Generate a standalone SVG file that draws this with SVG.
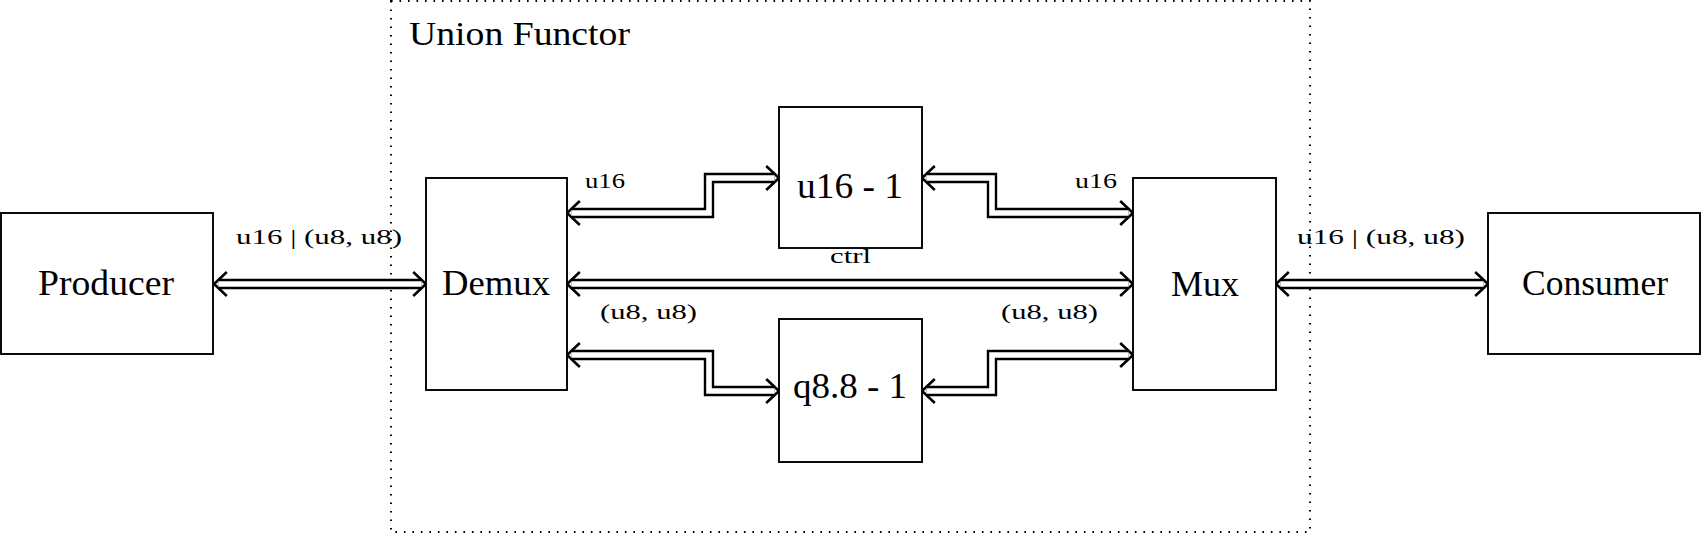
<svg xmlns="http://www.w3.org/2000/svg" width="1702" height="533" viewBox="0 0 1702 533">
<style>
.box{fill:#fff;stroke:#000;stroke-width:1.9}
.big{font-family:"Liberation Serif","DejaVu Serif",serif;font-size:35px;fill:#000;text-anchor:middle}
.sm{font-family:"Liberation Serif","DejaVu Serif",serif;font-size:21px;fill:#000}
.outer{fill:none;stroke:#000;stroke-width:10.4;stroke-linejoin:miter;stroke-linecap:butt}
.inner{fill:none;stroke:#fff;stroke-width:5.6;stroke-linejoin:miter;stroke-linecap:butt}
.frame{fill:none;stroke:#000;stroke-width:2;stroke-dasharray:1.6 6.9}
</style>
<defs>
<marker id="imp" markerUnits="userSpaceOnUse" markerWidth="30" markerHeight="30" refX="0" refY="0" viewBox="-15 -15 30 30" orient="auto-start-reverse" overflow="visible">
<path d="M -8.4 -12 L 4.4 0 L -8.4 12" fill="none" stroke="#000" stroke-width="2.6" stroke-linejoin="miter"/>
</marker>
</defs>
<g id="union-functor">
<rect class="frame" x="391" y="1" width="919" height="531"/>
<text class="sm" x="409" y="45" style="font-size:34px" textLength="221" lengthAdjust="spacingAndGlyphs">Union Functor</text>
</g>
<g id="connectors">
<path class="outer" d="M 218.4 284 H 421.6" marker-start="url(#imp)" marker-end="url(#imp)"/>
<path class="inner" d="M 218.4 284 H 421.6"/>
<path class="outer" d="M 571.4 284 H 1128.6" marker-start="url(#imp)" marker-end="url(#imp)"/>
<path class="inner" d="M 571.4 284 H 1128.6"/>
<path class="outer" d="M 1280.4 284 H 1483.6" marker-start="url(#imp)" marker-end="url(#imp)"/>
<path class="inner" d="M 1280.4 284 H 1483.6"/>
<path class="outer" d="M 571.4 213 H 709 V 178 H 774.6" marker-start="url(#imp)" marker-end="url(#imp)"/>
<path class="inner" d="M 571.4 213 H 709 V 178 H 774.6"/>
<path class="outer" d="M 926.4 178 H 992 V 213 H 1128.6" marker-start="url(#imp)" marker-end="url(#imp)"/>
<path class="inner" d="M 926.4 178 H 992 V 213 H 1128.6"/>
<path class="outer" d="M 571.4 355 H 709 V 391 H 774.6" marker-start="url(#imp)" marker-end="url(#imp)"/>
<path class="inner" d="M 571.4 355 H 709 V 391 H 774.6"/>
<path class="outer" d="M 926.4 391 H 992 V 355 H 1128.6" marker-start="url(#imp)" marker-end="url(#imp)"/>
<path class="inner" d="M 926.4 391 H 992 V 355 H 1128.6"/>
<text class="sm" x="236" y="244" textLength="166" lengthAdjust="spacingAndGlyphs">u16 | (u8, u8)</text>
<text class="sm" x="1297" y="244" textLength="168" lengthAdjust="spacingAndGlyphs">u16 | (u8, u8)</text>
<text class="sm" x="585" y="188" textLength="40" lengthAdjust="spacingAndGlyphs">u16</text>
<text class="sm" x="1075" y="188" textLength="42" lengthAdjust="spacingAndGlyphs">u16</text>
<text class="sm" x="600" y="319" textLength="97" lengthAdjust="spacingAndGlyphs">(u8, u8)</text>
<text class="sm" x="1001" y="319" textLength="97" lengthAdjust="spacingAndGlyphs">(u8, u8)</text>
<text class="sm" x="830" y="263" textLength="41" lengthAdjust="spacingAndGlyphs">ctrl</text>
</g>
<g id="producer">
<rect class="box" x="1" y="213" width="212" height="141"/>
<text class="big" x="106" y="295" textLength="136" lengthAdjust="spacingAndGlyphs">Producer</text>
</g>
<g id="demux">
<rect class="box" x="426" y="178" width="141" height="212"/>
<text class="big" x="496" y="295" textLength="108" lengthAdjust="spacingAndGlyphs">Demux</text>
</g>
<g id="u16-1">
<rect class="box" x="779" y="107" width="143" height="141"/>
<text class="big" x="850" y="198" textLength="106" lengthAdjust="spacingAndGlyphs">u16 - 1</text>
</g>
<g id="q88-1">
<rect class="box" x="779" y="319" width="143" height="143"/>
<text class="big" x="850" y="398" textLength="114" lengthAdjust="spacingAndGlyphs">q8.8 - 1</text>
</g>
<g id="mux">
<rect class="box" x="1133" y="178" width="143" height="212"/>
<text class="big" x="1205" y="296" textLength="68" lengthAdjust="spacingAndGlyphs">Mux</text>
</g>
<g id="consumer">
<rect class="box" x="1488" y="213" width="212" height="141"/>
<text class="big" x="1595" y="295" textLength="146" lengthAdjust="spacingAndGlyphs">Consumer</text>
</g>
</svg>
